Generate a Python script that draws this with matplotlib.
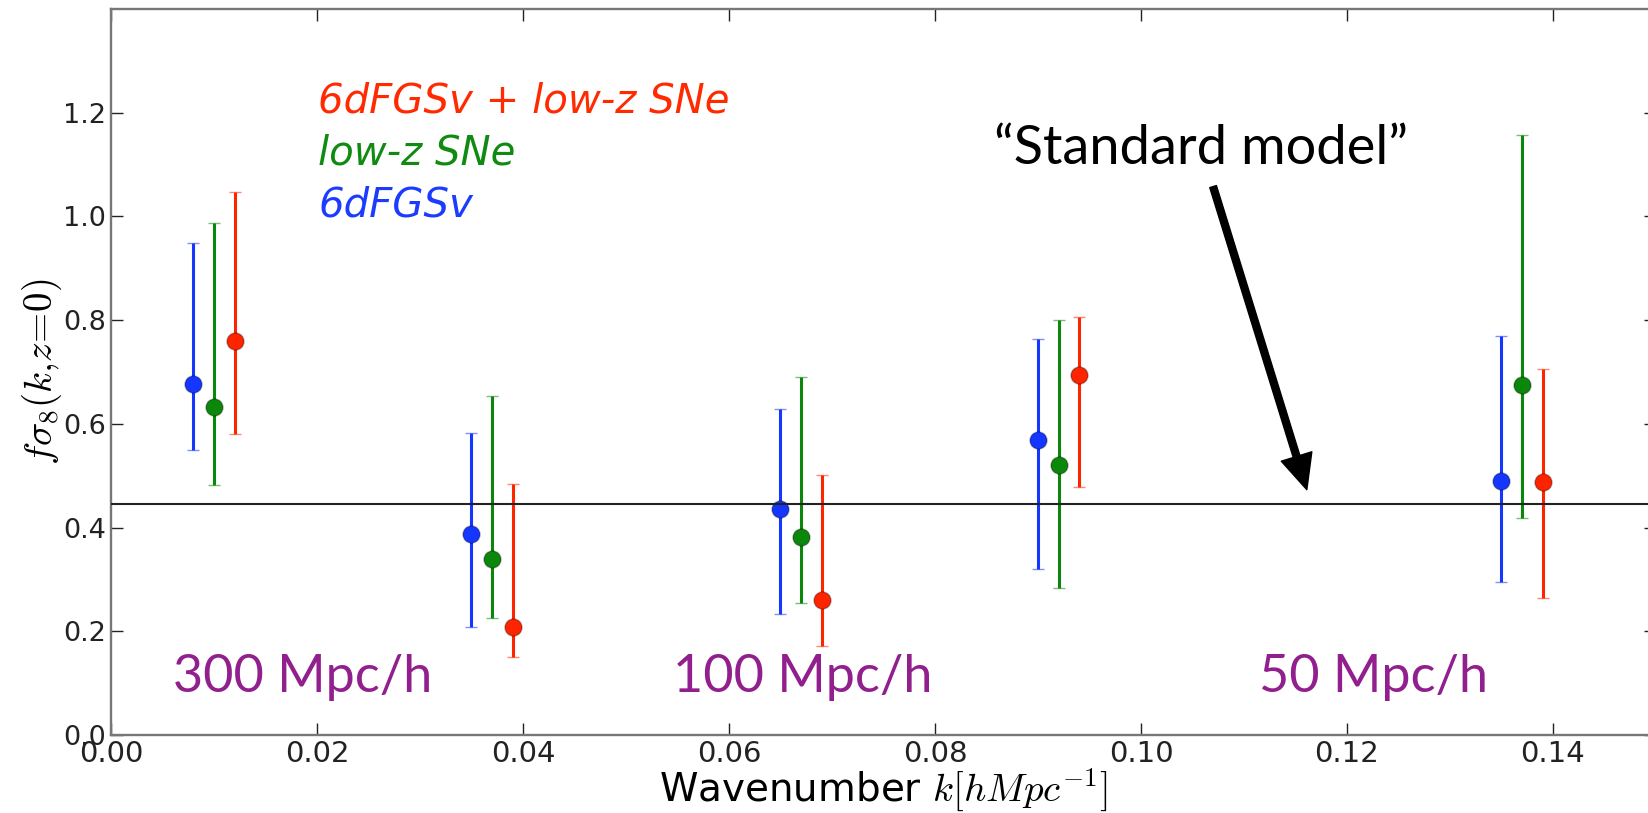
import matplotlib
matplotlib.use("Agg")
import matplotlib.pyplot as plt
import numpy as np

# ---- data ----
k_6df = [0.008, 0.035, 0.065, 0.090, 0.135]
f_6df = [0.677, 0.387, 0.436, 0.569, 0.489]
lo_6df = [0.550, 0.208, 0.233, 0.320, 0.295]
hi_6df = [0.949, 0.582, 0.629, 0.764, 0.769]

k_sne = [0.010, 0.037, 0.067, 0.092, 0.137]
f_sne = [0.633, 0.340, 0.382, 0.520, 0.674]
lo_sne = [0.482, 0.225, 0.255, 0.284, 0.418]
hi_sne = [0.987, 0.653, 0.691, 0.801, 1.156]

k_comb = [0.012, 0.039, 0.069, 0.094, 0.139]
f_comb = [0.759, 0.209, 0.261, 0.695, 0.488]
lo_comb = [0.580, 0.151, 0.171, 0.478, 0.265]
hi_comb = [1.047, 0.483, 0.501, 0.806, 0.705]

standard_model = 0.445

x_ticks = [0.00, 0.02, 0.04, 0.06, 0.08, 0.10, 0.12, 0.14]
y_ticks = [0.0, 0.2, 0.4, 0.6, 0.8, 1.0, 1.2]

legend_labels = ["6dFGSv + low-z SNe", "low-z SNe", "6dFGSv"]
scale_labels = ["300 Mpc/h", "100 Mpc/h", "50 Mpc/h"]
scale_label_x = [0.0060, 0.0546, 0.1115]

plt.rcParams["mathtext.fontset"] = "cm"
plt.rcParams["font.family"] = ["DejaVu Sans"]

fig = plt.figure(figsize=(16.48, 8.13), dpi=100)
ax = fig.add_axes([0.06735, 0.09594, 0.9375, 0.8932])

BLUE = "#1536ff"
GREEN = "#0b870b"
RED = "#ff2400"


def draw(k, f, lo, hi, color):
    f = np.asarray(f)
    yerr = np.vstack([f - np.asarray(lo), np.asarray(hi) - f])
    line, caps, bars = ax.errorbar(k, f, yerr=yerr, fmt="o", color=color,
                                   ms=12.3, mec=(0, 0, 0, 0.3), mew=1.0,
                                   elinewidth=2.2, capsize=4.6, capthick=1.0,
                                   zorder=2)
    for c in caps:
        c.set_alpha(0.55)


draw(k_6df, f_6df, lo_6df, hi_6df, BLUE)
draw(k_sne, f_sne, lo_sne, hi_sne, GREEN)
draw(k_comb, f_comb, lo_comb, hi_comb, RED)

ax.axhline(standard_model, color="#222222", lw=1.5, zorder=3)

ax.set_xlim(0, 0.15)
ax.set_ylim(0, 1.4)
ax.set_xticks(x_ticks)
ax.set_xticklabels([f"{v:.2f}" for v in x_ticks])
ax.set_yticks(y_ticks)
ax.set_yticklabels([f"{v:.1f}" for v in y_ticks])
ax.tick_params(direction="in", length=8.8, width=1.0, top=True, right=True,
               pad=3.8, colors="#222222")
ax.tick_params(axis="x", labelsize=21)
ax.tick_params(axis="y", labelsize=19.5)
for sp in ax.spines.values():
    sp.set_color("#777777")
    sp.set_linewidth(1.7)

ax.set_xlabel("Wavenumber $k[hMpc^{-1}]$", fontsize=28, labelpad=-1)
ax.set_ylabel(r"$f\sigma_8(k{,}z\!=\!0)$", fontsize=28, labelpad=-1)

# legend-like coloured text
ax.text(0.0201, 1.2, legend_labels[0], color="#ff2a00", fontsize=29, style="italic")
ax.text(0.0201, 1.1, legend_labels[1], color="#118a11", fontsize=29, style="italic")
ax.text(0.0201, 1.0, legend_labels[2], color="#1b3bff", fontsize=29, style="italic")

for x, s in zip(scale_label_x, scale_labels):
    ax.text(x, 0.083, s, color="#911f8e", fontsize=37.5, family="Lato")

ax.text(0.0857, 1.10, "\u201cStandard model\u201d", color="black", fontsize=39,
        family="Lato")
ax.annotate("", xy=(0.1161, 0.473), xytext=(0.1070, 1.0573),
            arrowprops=dict(width=5, headwidth=23, headlength=25,
                            facecolor="black", edgecolor="black", shrink=0))

fig.savefig("out.png", dpi=100)
